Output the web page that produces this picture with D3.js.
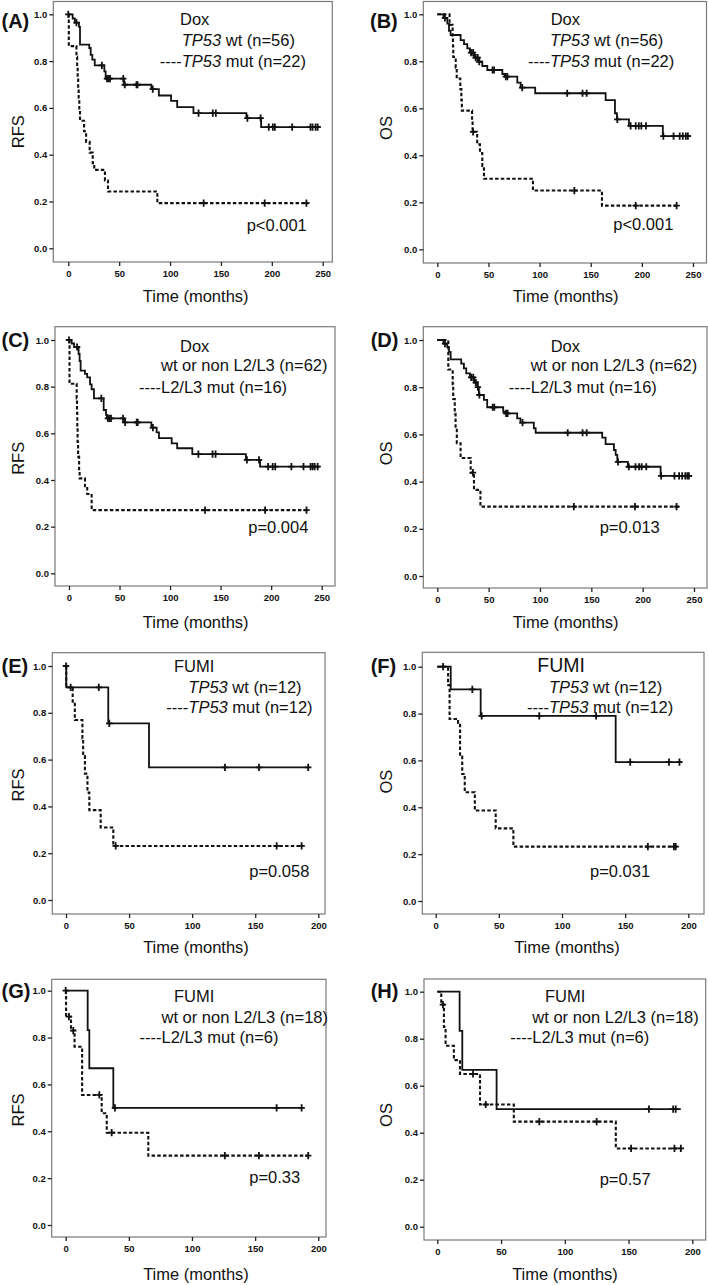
<!DOCTYPE html>
<html><head><meta charset="utf-8">
<script src="https://cdn.jsdelivr.net/npm/d3@7"></script>
<style>
body{margin:0;background:#fff;}
svg{display:block;}
text{font-family:"Liberation Sans",Arial,sans-serif;fill:#111;}
</style></head><body>
<svg id="c" width="708" height="1285"></svg>
<script>
// ---------- DATA (time in months, survival proportion) ----------
const yTicks = [0, 0.2, 0.4, 0.6, 0.8, 1.0];
const xTicksDox = [0, 50, 100, 150, 200, 250];
const xTicksFumi = [0, 50, 100, 150, 200];

// Panel A: Dox RFS, TP53
const A_wt = [[0,1],[4.3,0.982],[6.5,0.964],[10.5,0.946],[11.5,0.87],[20.6,0.856],[22,0.827],[23.6,0.806],[26,0.782],[35.4,0.756],[36.7,0.725],[54.7,0.699],[81.6,0.68],[89,0.653],[101,0.63],[107,0.603],[123,0.578],[175,0.556],[189.5,0.518]];
const A_wtCens = [0,8,33,38,39.5,41,54,55.5,67,68,83,128,142,145,176,189,197,201,203,220,238,240,243,245];
const A_mut = [[0,1],[0.5,0.864],[8,0.818],[8.7,0.773],[9.2,0.727],[9.7,0.682],[10.2,0.636],[10.8,0.591],[11.5,0.545],[15.5,0.5],[17.5,0.455],[21,0.409],[24,0.364],[25.5,0.335],[36,0.29],[39,0.243],[87.5,0.193]];
const A_mutCens = [133,193,234];

// Panel B: Dox OS, TP53
const B_wt = [[0,1],[6,0.985],[9.8,0.96],[11.4,0.93],[13,0.912],[22.8,0.89],[26.1,0.873],[29.3,0.855],[31.9,0.837],[36,0.816],[40.7,0.798],[44,0.78],[48.9,0.763],[63.6,0.746],[66,0.735],[78.2,0.709],[81.5,0.688],[95.7,0.664],[164.6,0.635],[173.7,0.579],[175.6,0.553],[187.4,0.525],[220.5,0.482]];
const B_wtCens = [7.5,33,35,37.5,39.5,41,54,55.5,67,68.5,83,127,142,146,176,189,194,197,199.5,204,221,231,237,240,243,245];
const B_mut = [[0,1],[12,0.955],[15,0.909],[15.3,0.864],[15.6,0.818],[18,0.773],[19,0.727],[22.5,0.682],[23.5,0.636],[24,0.59],[34,0.545],[34.5,0.5],[39,0.447],[41.7,0.41],[44,0.355],[45.6,0.3],[93.5,0.25],[161,0.186]];
const B_mutCens = [35,134,194,234];

// Panel C: Dox RFS, L2/L3
const C_wt = [[0,1],[2.6,0.985],[5,0.97],[9.5,0.94],[10.5,0.91],[11.5,0.869],[15.8,0.855],[18,0.84],[20.8,0.81],[22.4,0.789],[24.7,0.75],[34.3,0.70],[36.6,0.679],[37.5,0.664],[54.4,0.647],[81.5,0.624],[86.7,0.604],[89,0.579],[101.6,0.557],[107,0.536],[122,0.511],[175,0.486],[189,0.457]];
const C_wtCens = [0,8,32,38.5,40,41.5,53.5,55.5,67,68,83,128,142,145,176,188,197,201.5,204,220,232,239,241,243,246];
const C_mut = [[0,1],[0.5,0.8125],[7.6,0.75],[7.9,0.6875],[8.2,0.625],[8.5,0.5625],[9,0.5],[10,0.4375],[10.5,0.407],[15.8,0.373],[18,0.34],[22.4,0.271]];
const C_mutCens = [134.6,194,235];

// Panel D: Dox OS, L2/L3
const D_wt = [[0,1],[6,0.985],[9.7,0.97],[11.4,0.95],[13,0.918],[23.3,0.90],[25.9,0.88],[28.2,0.859],[31.8,0.842],[36,0.82],[38.9,0.80],[40.5,0.767],[45.4,0.746],[48.6,0.715],[64.2,0.696],[66,0.689],[77.8,0.668],[81,0.65],[94,0.626],[95.8,0.607],[160.6,0.586],[163.9,0.559],[172,0.534],[173.7,0.513],[175.3,0.484],[185.6,0.463],[217.5,0.424]];
const D_wtCens = [7.5,33,35,37.5,39.5,41,54,55.5,67,68.5,83,127,141.5,145.5,176,186.5,193,196.5,199,203.5,218,231,235.5,238.5,241.5,243.5,245];
const D_mut = [[0,1],[10.7,0.875],[15,0.8125],[15.5,0.75],[17,0.6875],[17.8,0.625],[19,0.5625],[22.7,0.5],[32.5,0.438],[35.7,0.365],[42,0.294]];
const D_mutCens = [34.7,133,192.5,233];

// Panel E: FUMI RFS, TP53
const E_wt = [[0,1],[0.2,0.909],[33.5,0.755],[65.8,0.567]];
const E_wtCens = [0,26,34.3,126,153,192];
const E_mut = [[0,1],[0.2,0.909],[5.3,0.843],[7,0.769],[13,0.69],[13.6,0.615],[15,0.54],[17,0.459],[18.5,0.384],[27.5,0.31],[37.5,0.231]];
const E_mutCens = [3.7,39.4,167,186.8];

// Panel F: FUMI OS, TP53
const F_wt = [[1.3,1],[11.9,0.903],[35.6,0.79],[142.5,0.593]];
const F_wtCens = [5.8,29,36.4,82,127,154,184.7,193];
const F_mut = [[1.3,1],[9.8,0.922],[11,0.777],[17.7,0.76],[19.3,0.616],[21,0.542],[23,0.464],[31,0.386],[47.5,0.31],[61.5,0.232]];
const F_mutCens = [168,188.6,190];

// Panel G: FUMI RFS, L2/L3
const G_wt = [[0,1],[17.4,0.832],[18.7,0.669],[37.7,0.5]];
const G_wtCens = [39,167,186.8];
const G_mut = [[0,1],[0.3,0.889],[4.2,0.83],[7,0.761],[13,0.555],[28.5,0.477],[32.5,0.394],[65.4,0.296]];
const G_mutCens = [0,2.6,6,26.6,36.4,126,153,192];

// Panel H: FUMI OS, L2/L3
const H_wt = [[0,1],[17.5,0.833],[19.6,0.667],[46.5,0.5]];
const H_wtCens = [166,185,187];
const H_mut = [[0,1],[3.1,0.945],[5.2,0.85],[6.5,0.77],[13,0.709],[17.8,0.65],[33.5,0.52],[60,0.447],[140,0.333]];
const H_mutCens = [4.4,28,38,80,125,152,186,191];

// curve end times [wt, mut]
const curveEnds = {A:[248,236],B:[248,236],C:[248,236],D:[248,236],E:[193,188],F:[195,192],G:[188,193],H:[191,192]};

const panelLabels = ["(A)","(B)","(C)","(D)","(E)","(F)","(G)","(H)"];
const yLabels = ["RFS","OS","RFS","OS","RFS","OS","RFS","OS"];
const titles = ["Dox","Dox","Dox","Dox","FUMI","FUMI","FUMI","FUMI"];
const pValues = ["p<0.001","p<0.001","p=0.004","p=0.013","p=0.058","p=0.031","p=0.33","p=0.57"];
const legendWt = [["TP53"," wt (n=56)"],["TP53"," wt (n=56)"],["","wt or non L2/L3 (n=62)"],["","wt or non L2/L3 (n=62)"],["TP53"," wt (n=12)"],["TP53"," wt (n=12)"],["","wt or non L2/L3 (n=18)"],["","wt or non L2/L3 (n=18)"]];
const legendMut = [["TP53"," mut (n=22)"],["TP53"," mut (n=22)"],["","L2/L3 mut (n=16)"],["","L2/L3 mut (n=16)"],["TP53"," mut (n=12)"],["TP53"," mut (n=12)"],["","L2/L3 mut (n=6)"],["","L2/L3 mut (n=6)"]];

// ---------- LAYOUT ----------
const layouts = {
 A:{frame:[53.3,1.5,332.3,262],xr:[68.3,322.7],yr:[248.3,14.3],lab:[1.5,28.3],ylab:[18.3,131.7],time:[195.7,302],title:[180,25],rowX:181.7,rows:[45.7,66.7],p:[246.7,231],titleSize:16.5},
 B:{frame:[423.3,1.5,706.5,263],xr:[437.3,693],yr:[249.3,14.3],lab:[370,28.3],ylab:[385.7,128],time:[565.7,302],title:[550.7,25],rowX:550,rows:[45.7,66.7],p:[613.3,230],titleSize:16.5},
 C:{frame:[55,326.7,335,586],xr:[69,321.7],yr:[573.3,340],lab:[1.5,346.7],ylab:[18.3,458.3],time:[195.7,628],title:[180,351.7],rowX:161,rows:[371,393.3],p:[248.3,533.3],titleSize:16.5},
 D:{frame:[423.3,326.7,707,588],xr:[437.3,694],yr:[576,340],lab:[370.7,346.7],ylab:[385.7,453.3],time:[565.7,628],title:[550.7,351.7],rowX:530.7,rows:[371,393],p:[599.7,533.3],titleSize:16.5},
 E:{frame:[52.3,652.7,325,914],xr:[66,318.3],yr:[900,666],lab:[1.5,673.3],ylab:[18.3,785],time:[196,953],title:[174,671.7],rowX:188.3,rows:[692.7,712.7],p:[249.3,876.7],titleSize:16.5},
 F:{frame:[422.3,652.3,704,914],xr:[435.7,688.3],yr:[901,666.7],lab:[370.7,673.3],ylab:[385.7,781.7],time:[567,953],title:[537.3,671.7],rowX:549,rows:[692.7,713.3],p:[590,876.7],titleSize:19.5},
 G:{frame:[51.7,979.3,326,1237],xr:[65.7,318.3],yr:[1225,990.7],lab:[1.5,998.3],ylab:[18.3,1110],time:[196,1280],title:[174,1001.7],rowX:161.5,rows:[1022.7,1043.3],p:[249.3,1183.3],titleSize:16.5},
 H:{frame:[424,979,705.7,1240],xr:[437.3,692.3],yr:[1226.7,991.7],lab:[370.7,998.3],ylab:[385.7,1115],time:[565,1280],title:[545,1001.7],rowX:532.3,rows:[1022.7,1043.3],p:[599.7,1185],titleSize:16.5}
};

const panels = [
 {k:"A",wt:A_wt,wtC:A_wtCens,mut:A_mut,mutC:A_mutCens,xT:xTicksDox},
 {k:"B",wt:B_wt,wtC:B_wtCens,mut:B_mut,mutC:B_mutCens,xT:xTicksDox},
 {k:"C",wt:C_wt,wtC:C_wtCens,mut:C_mut,mutC:C_mutCens,xT:xTicksDox},
 {k:"D",wt:D_wt,wtC:D_wtCens,mut:D_mut,mutC:D_mutCens,xT:xTicksDox},
 {k:"E",wt:E_wt,wtC:E_wtCens,mut:E_mut,mutC:E_mutCens,xT:xTicksFumi},
 {k:"F",wt:F_wt,wtC:F_wtCens,mut:F_mut,mutC:F_mutCens,xT:xTicksFumi},
 {k:"G",wt:G_wt,wtC:G_wtCens,mut:G_mut,mutC:G_mutCens,xT:xTicksFumi},
 {k:"H",wt:H_wt,wtC:H_wtCens,mut:H_mut,mutC:H_mutCens,xT:xTicksFumi}
];

// ---------- DRAW ----------
const svg = d3.select("#c");
function valueAt(steps,t){let v=steps[0][1];for(const s of steps){if(s[0]<=t)v=s[1];}return v;}

panels.forEach((p,i)=>{
  const L = layouts[p.k];
  const [fl,ft,fr,fb] = L.frame;
  const xMax = p.xT[p.xT.length-1];
  const x = d3.scaleLinear().domain([0,xMax]).range(L.xr);
  const y = d3.scaleLinear().domain([0,1]).range(L.yr);
  const g = svg.append("g");

  g.append("rect").attr("x",fl).attr("y",ft).attr("width",fr-fl).attr("height",fb-ft)
    .attr("fill","none").attr("stroke","#7a7a7a").attr("stroke-width",1.2);

  const ya = g.append("g").attr("transform",`translate(${fl},0)`)
    .call(d3.axisLeft(y).tickValues(yTicks).tickFormat(d3.format(".1f")).tickSize(4).tickPadding(2));
  const xa = g.append("g").attr("transform",`translate(0,${fb})`)
    .call(d3.axisBottom(x).tickValues(p.xT).tickSize(4).tickPadding(4));
  [ya,xa].forEach(a=>{
    a.select(".domain").remove();
    a.selectAll("line").attr("stroke","#222").attr("stroke-width",1.3);
    a.selectAll("text").attr("font-size",9.5).attr("font-weight","bold").attr("fill","#222")
      .attr("font-family","'Liberation Sans Narrow','Liberation Sans',Arial,sans-serif");
  });

  const line = d3.line().x(d=>x(d[0])).y(d=>y(d[1])).curve(d3.curveStepAfter);
  const ends = curveEnds[p.k];
  const wtPts = p.wt.concat([[ends[0],p.wt[p.wt.length-1][1]]]);
  const mutPts = p.mut.concat([[ends[1],p.mut[p.mut.length-1][1]]]);
  g.append("path").attr("d",line(mutPts)).attr("fill","none").attr("stroke","#111")
    .attr("stroke-width",2.1).attr("stroke-dasharray","3.5,2.2");
  g.append("path").attr("d",line(wtPts)).attr("fill","none").attr("stroke","#111")
    .attr("stroke-width",1.8);

  const cens = (steps,times)=>times.forEach(t=>{
    const cx=x(t), cy=y(valueAt(steps,t));
    g.append("path").attr("d",`M${cx-3.2},${cy}h6.4M${cx},${cy-3.6}v7.2`)
      .attr("stroke","#111").attr("stroke-width",1.8).attr("fill","none");
  });
  cens(p.wt,p.wtC); cens(p.mut,p.mutC);

  g.append("text").attr("x",L.lab[0]).attr("y",L.lab[1]).attr("font-size",20).attr("font-weight","bold").text(panelLabels[i]);
  g.append("text").attr("transform",`translate(${L.ylab[0]},${L.ylab[1]}) rotate(-90)`)
    .attr("text-anchor","middle").attr("dy","0.36em").attr("font-size",16.5).text(yLabels[i]);
  g.append("text").attr("x",L.time[0]).attr("y",L.time[1]).attr("text-anchor","middle").attr("font-size",16.5).text("Time (months)");
  g.append("text").attr("x",L.title[0]).attr("y",L.title[1]).attr("font-size",L.titleSize).text(titles[i]);

  const row = (parts,yy,dash)=>{
    if(dash) g.append("text").attr("x",L.rowX).attr("y",yy).attr("text-anchor","end").attr("font-size",16.5).text("----");
    const t = g.append("text").attr("x",L.rowX).attr("y",yy).attr("font-size",16.5);
    if(parts[0]) t.append("tspan").attr("font-style","italic").text(parts[0]);
    t.append("tspan").text(parts[1]);
  };
  row(legendWt[i],L.rows[0],false);
  row(legendMut[i],L.rows[1],true);
  g.append("text").attr("x",L.p[0]).attr("y",L.p[1]).attr("font-size",16.5).text(pValues[i]);
});
</script>
</body></html>
